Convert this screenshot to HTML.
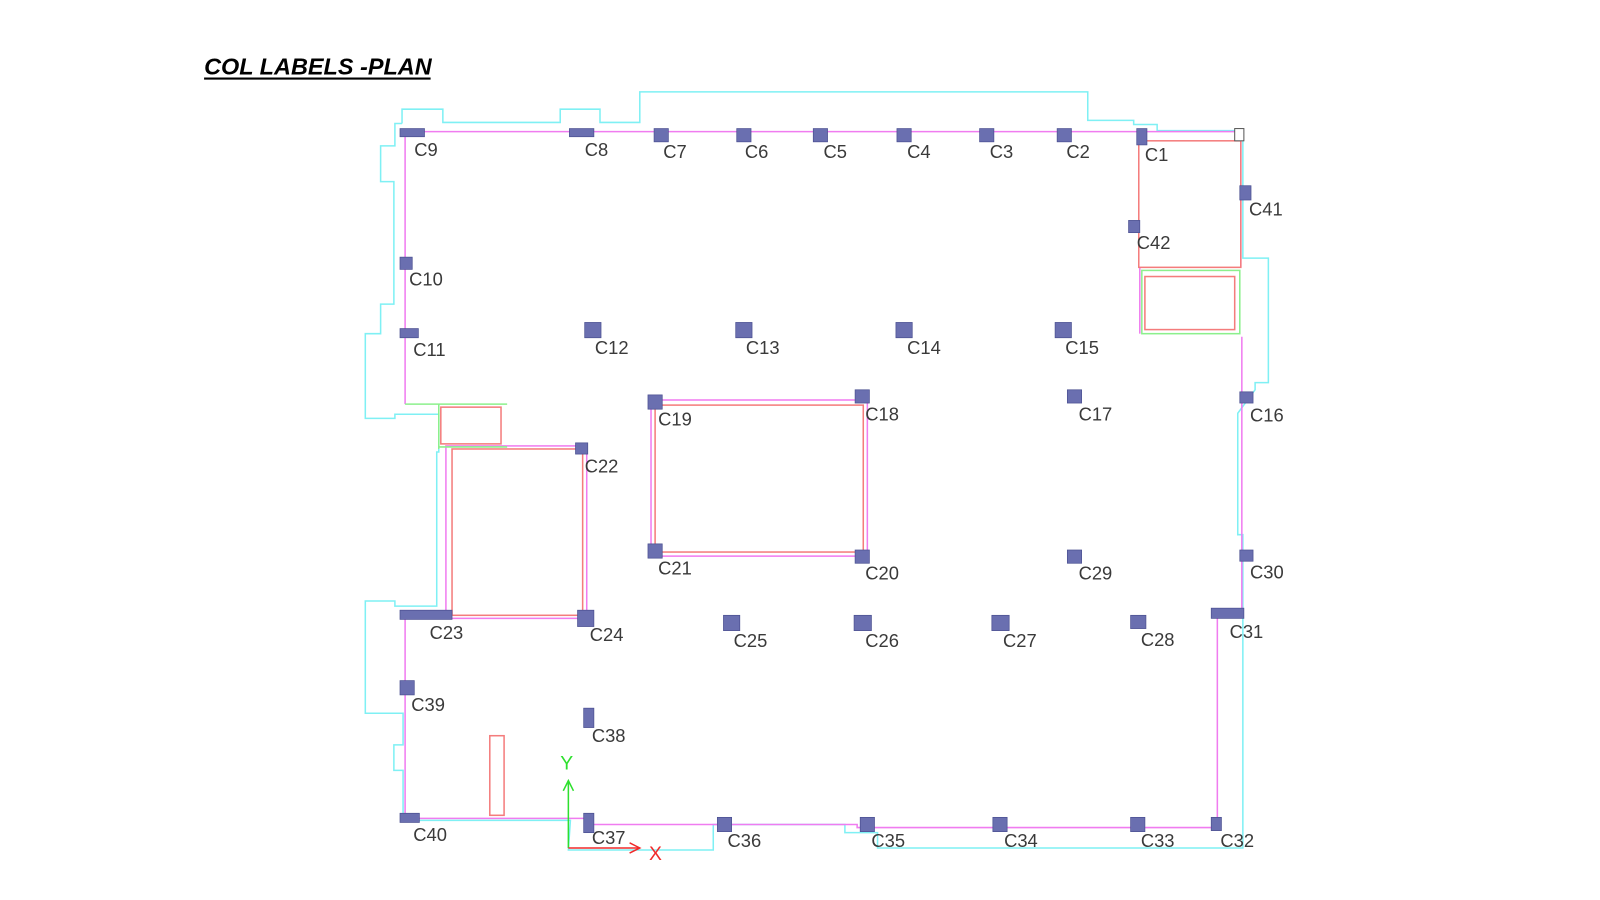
<!DOCTYPE html>
<html><head><meta charset="utf-8"><style>
html,body{margin:0;padding:0;background:#fff;width:1600px;height:900px;overflow:hidden}
svg{display:block}
.l{font-family:"Liberation Sans",Arial,sans-serif;font-size:18px;fill:#3a3a3a}
</style></head><body>
<svg width="1600" height="900" viewBox="0 0 1568 882" xmlns="http://www.w3.org/2000/svg">
<text x="200" y="73" font-family="Liberation Sans, sans-serif" font-size="23" font-weight="bold" font-style="italic" fill="#000">COL LABELS -PLAN</text>
<line x1="200" y1="77" x2="422" y2="77" stroke="#000" stroke-width="2"/>
<polyline fill="none" stroke="#7ff0f4" stroke-width="1.5" points="394,121 394,107 434,107 434,120 549,120 549,107 588,107 588,120 627,120 627,90 1066,90 1066,118 1111,118 1111,122 1134,122 1134,128 1218,128 1218,253 1243,253 1243,375 1230,375 1230,382 1213,405 1213,524 1218,524 1218,831 860,831 860,816 828,816 828,808 720,808 699,808 699,833 557,833 559,804 395,804 395,755 386,755 386,730 395,730 395,699 358,699 358,589 387,589 387,594 428,594 428,443 430,443 430,406 387,406 387,410 358,410 358,327 373,327 373,298 386,298 386,178 373,178 373,143 387,143 387,121 394,121"/>
<g fill="none" stroke="#f07cf0" stroke-width="1.5">
<polyline points="1216,262 1216,129 397,129 397,396"/>
<polyline points="397,600 397,802 575,802 575,808 840,808 840,811 1193,811 1193,600"/>
<polyline points="1217,600 1217,330"/>
<rect x="437" y="437" width="138" height="169"/>
<rect x="638" y="392" width="212" height="153"/>
<line x1="1117" y1="262" x2="1117" y2="327"/>
</g>
<g fill="none" stroke="#8cf08c" stroke-width="1.5">
<line x1="397" y1="396" x2="497" y2="396"/>
<line x1="430" y1="396" x2="430" y2="440"/>
<line x1="430" y1="438" x2="497" y2="438"/>
<rect x="1119" y="265" width="96" height="62"/>
</g>
<g fill="none" stroke="#f47c7c" stroke-width="1.5">
<rect x="1116" y="138" width="100" height="124"/>
<rect x="1122" y="271" width="88" height="52"/>
<rect x="432" y="399" width="59" height="36"/>
<rect x="443" y="440" width="128" height="163"/>
<rect x="642" y="397" width="204" height="144"/>
<rect x="480" y="721" width="14" height="78"/>
</g>
<rect x="1210" y="126" width="9" height="12" fill="#fff" stroke="#555" stroke-width="1"/>
<g fill="#6a6fb0" stroke="#4a4f90" stroke-width="0.7">
<rect x="392" y="126" width="24" height="8"/><rect x="558" y="126" width="24" height="8"/>
<rect x="641" y="126" width="14" height="13"/><rect x="722" y="126" width="14" height="13"/>
<rect x="797" y="126" width="14" height="13"/><rect x="879" y="126" width="14" height="13"/>
<rect x="960" y="126" width="14" height="13"/><rect x="1036" y="126" width="14" height="13"/>
<rect x="1114" y="126" width="10" height="16"/><rect x="1215" y="182" width="11" height="14"/>
<rect x="1106" y="216" width="11" height="12"/><rect x="392" y="252" width="12" height="12"/>
<rect x="392" y="322" width="18" height="9"/><rect x="573" y="316" width="16" height="15"/>
<rect x="721" y="316" width="16" height="15"/><rect x="878" y="316" width="16" height="15"/>
<rect x="1034" y="316" width="16" height="15"/><rect x="1046" y="382" width="14" height="13"/>
<rect x="1215" y="384" width="13" height="11"/><rect x="838" y="382" width="14" height="13"/>
<rect x="635" y="387" width="14" height="14"/><rect x="564" y="434" width="12" height="11"/>
<rect x="635" y="533" width="14" height="14"/><rect x="838" y="539" width="14" height="13"/>
<rect x="1046" y="539" width="14" height="13"/><rect x="1215" y="539" width="13" height="11"/>
<rect x="392" y="598" width="51" height="9"/><rect x="566" y="598" width="16" height="16"/>
<rect x="709" y="603" width="16" height="15"/><rect x="837" y="603" width="17" height="15"/>
<rect x="972" y="603" width="17" height="15"/><rect x="1108" y="603" width="15" height="13"/>
<rect x="1187" y="596" width="32" height="10"/><rect x="392" y="667" width="14" height="14"/>
<rect x="572" y="694" width="10" height="19"/><rect x="392" y="797" width="19" height="9"/>
<rect x="572" y="797" width="10" height="19"/><rect x="703" y="801" width="14" height="14"/>
<rect x="843" y="801" width="14" height="14"/><rect x="973" y="801" width="14" height="14"/>
<rect x="1108" y="801" width="14" height="14"/><rect x="1187" y="801" width="10" height="13"/>
</g>
<g class="l">
<text x="406" y="153">C9</text><text x="573" y="153">C8</text><text x="650" y="155">C7</text>
<text x="730" y="155">C6</text><text x="807" y="155">C5</text><text x="889" y="155">C4</text>
<text x="970" y="155">C3</text><text x="1045" y="155">C2</text><text x="1122" y="158">C1</text>
<text x="1224" y="211">C41</text><text x="1114" y="244">C42</text><text x="401" y="280">C10</text>
<text x="405" y="349">C11</text><text x="583" y="347">C12</text><text x="731" y="347">C13</text>
<text x="889" y="347">C14</text><text x="1044" y="347">C15</text><text x="1057" y="412">C17</text>
<text x="1225" y="413">C16</text><text x="848" y="412">C18</text><text x="645" y="417">C19</text>
<text x="573" y="463">C22</text><text x="645" y="563">C21</text><text x="848" y="568">C20</text>
<text x="1057" y="568">C29</text><text x="1225" y="567">C30</text><text x="421" y="626">C23</text>
<text x="578" y="628">C24</text><text x="719" y="634">C25</text><text x="848" y="634">C26</text>
<text x="983" y="634">C27</text><text x="1118" y="633">C28</text><text x="1205" y="625">C31</text>
<text x="403" y="697">C39</text><text x="580" y="727">C38</text><text x="405" y="824">C40</text>
<text x="580" y="827">C37</text><text x="713" y="830">C36</text><text x="854" y="830">C35</text>
<text x="984" y="830">C34</text><text x="1118" y="830">C33</text><text x="1196" y="830">C32</text>
</g>
<g stroke-width="1.5" fill="none">
<polyline points="557,831 557,765" stroke="#2ee02e"/>
<polyline points="552,775 557,765 562,775" stroke="#2ee02e"/>
<polyline points="557,831 627,831" stroke="#f02a2a"/>
<polyline points="617,826 627,831 617,836" stroke="#f02a2a"/>
</g>
<text x="549" y="754" font-family="Liberation Sans, sans-serif" font-size="19" fill="#2ee02e">Y</text>
<text x="636" y="843" font-family="Liberation Sans, sans-serif" font-size="19" fill="#f02a2a">X</text>
</svg>
</body></html>
